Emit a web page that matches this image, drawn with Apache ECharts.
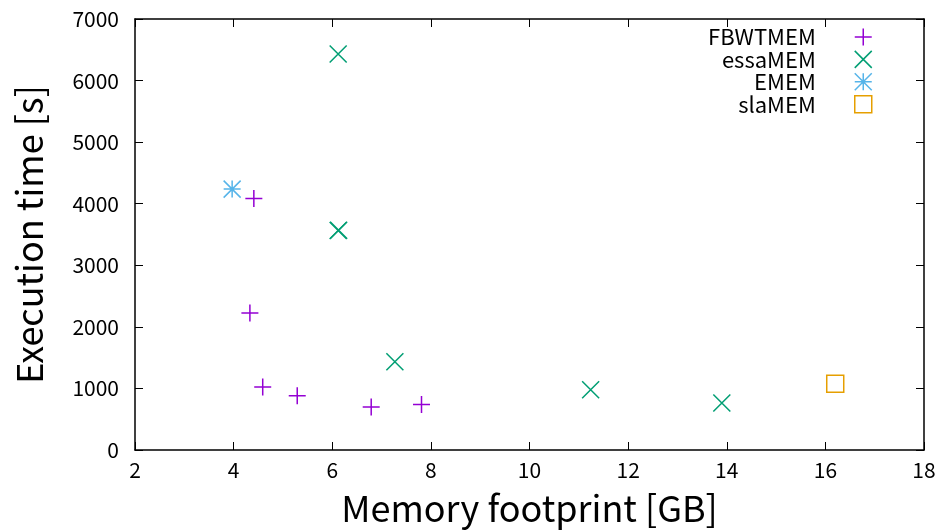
<!DOCTYPE html>
<html>
<head>
<meta charset="utf-8">
<script src="https://cdn.jsdelivr.net/npm/echarts@6/dist/echarts.min.js"></script>
<style>
  html, body { margin: 0; padding: 0; background: #fff; }
  #chart { width: 945px; height: 530px; }
</style>
</head>
<body>
<div id="chart"></div>
<script>
// Memory footprint [GB] vs execution time [s] for each tool
const seriesNames = ['FBWTMEM', 'essaMEM', 'EMEM', 'slaMEM'];
const fbwtmemPoints = [[4.41, 4084], [4.33, 2224], [4.59, 1023], [5.29, 881], [6.79, 698], [7.81, 740]];
const essamemPoints = [[6.12, 6433], [6.12, 3565], [6.13, 3568], [7.27, 1433], [11.24, 979], [13.9, 763]];
const ememPoints = [[3.97, 4237]];
const slamemPoints = [[16.2, 1078]];
const xTicks = [2, 4, 6, 8, 10, 12, 14, 16, 18];
const yTicks = [0, 1000, 2000, 3000, 4000, 5000, 6000, 7000];

const colors = ['#9400d3', '#009e73', '#56b4e9', '#e69f00'];
const symbols = [
  'path://M0,5L10,5M5,0L5,10',                         // plus
  'path://M0,0L10,10M0,10L10,0',                       // cross
  'path://M0,5L10,5M5,0L5,10M0,0L10,10M0,10L10,0',     // asterisk
  'path://M0,0L10,0L10,10L0,10Z'                       // open square
];
const dataSets = [fbwtmemPoints, essamemPoints, ememPoints, slamemPoints];

const font = 'Noto Sans CJK JP';
const chart = echarts.init(document.getElementById('chart'), null, { renderer: 'canvas' });

const axisCommon = {
  axisLine: { show: true, onZero: false, lineStyle: { color: '#000', width: 1.5 } },
  axisTick: { show: true, inside: true, length: 8, lineStyle: { color: '#000', width: 1 } },
  splitLine: { show: false }
};

chart.setOption({
  backgroundColor: '#fff',
  animation: false,
  textStyle: { fontFamily: font },
  grid: { left: 135, right: 21, top: 19, bottom: 80, containLabel: false, outerBoundsMode: 'none' },
  xAxis: [
    Object.assign({}, axisCommon, {
      type: 'value', min: xTicks[0], max: xTicks[xTicks.length - 1], interval: 2,
      position: 'bottom',
      name: 'Memory footprint [GB]', nameLocation: 'middle', nameGap: 40,
      nameTextStyle: { fontSize: 36, color: '#000', fontFamily: font },
      axisLabel: { fontSize: 21, color: '#000', margin: 10, fontFamily: font }
    }),
    Object.assign({}, axisCommon, {
      type: 'value', min: xTicks[0], max: xTicks[xTicks.length - 1], interval: 2,
      position: 'top', axisLabel: { show: false }
    })
  ],
  yAxis: [
    Object.assign({}, axisCommon, {
      type: 'value', min: yTicks[0], max: yTicks[yTicks.length - 1], interval: 1000,
      position: 'left',
      name: 'Execution time [s]', nameLocation: 'middle', nameGap: 88,
      nameTextStyle: { fontSize: 36, color: '#000', fontFamily: font },
      axisLabel: { fontSize: 21, color: '#000', margin: 16, fontFamily: font, formatter: v => String(v) }
    }),
    Object.assign({}, axisCommon, {
      type: 'value', min: yTicks[0], max: yTicks[yTicks.length - 1], interval: 1000,
      position: 'right', axisLabel: { show: false }
    })
  ],
  legend: {
    orient: 'vertical',
    right: 67.5,
    top: 21,
    align: 'right',
    itemGap: 0.4,
    itemWidth: 17,
    itemHeight: 17,
    selectedMode: false,
    textStyle: { fontSize: 22, lineHeight: 17, color: '#000', fontFamily: font, padding: [0, 34, 0, 0] },
    data: seriesNames.map((n, i) => ({
      name: n,
      icon: symbols[i],
      itemStyle: { color: 'transparent', borderColor: colors[i], borderWidth: 1.5 }
    }))
  },
  series: dataSets.map((d, i) => ({
    name: seriesNames[i],
    type: 'scatter',
    symbol: symbols[i],
    symbolSize: 17,
    data: d,
    itemStyle: { color: 'transparent', borderColor: colors[i], borderWidth: 1.5, opacity: 1 }
  }))
});
</script>
</body>
</html>
